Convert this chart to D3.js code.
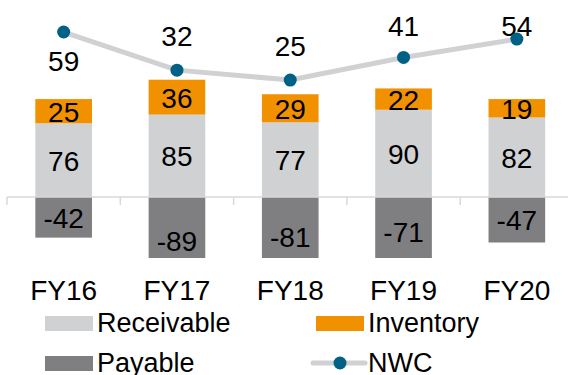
<!DOCTYPE html>
<html>
<head>
<meta charset="utf-8">
<script src="https://cdn.jsdelivr.net/npm/d3@7"></script>
<style>
  body { margin: 0; background: #fff; }
  svg { display: block; font-family: "Liberation Sans", Arial, sans-serif; }
</style>
</head>
<body>
<div id="chart"></div>
<script>
// data
const years = ['FY16', 'FY17', 'FY18', 'FY19', 'FY20'];
const receivable = [76, 85, 77, 90, 82];
const inventory = [25, 36, 29, 22, 19];
const payable = [-42, -89, -81, -71, -47];
const nwc = [59, 32, 25, 41, 54];

const width = 568;
const height = 375;
const plotTop = 8;
const plotBottom = 258;

const colors = {
	receivable: '#d0d1d3',
	inventory: '#f29100',
	payable: '#7f7f82',
	line: '#d0d1d3',
	dot: '#006186'
};

const x = d3
	.scaleBand()
	.domain(years)
	.range([7, 573.5])
	.paddingInner(0.5)
	.paddingOuter(0.25);

// primary axis for the bars, secondary for NWC
const y = d3.scaleLinear().domain([-63, 195]).range([plotBottom, plotTop]);
const y2 = d3.scaleLinear().domain([-101, 76]).range([plotBottom, plotTop]);

const svg = d3
	.select('#chart')
	.append('svg')
	.attr('width', width)
	.attr('height', height);

svg
	.append('defs')
	.append('clipPath')
	.attr('id', 'plot')
	.append('rect')
	.attr('x', 0)
	.attr('y', plotTop - 10)
	.attr('width', width)
	.attr('height', plotBottom - plotTop + 10);

const bars = svg.append('g').attr('clip-path', 'url(#plot)');

// receivable
bars
	.selectAll('rect.rec')
	.data(years)
	.join('rect')
	.attr('class', 'rec')
	.attr('x', (d) => x(d))
	.attr('width', x.bandwidth())
	.attr('y', (d, i) => y(receivable[i]))
	.attr('height', (d, i) => y(0) - y(receivable[i]))
	.attr('fill', colors.receivable);

// inventory on top
bars
	.selectAll('rect.inv')
	.data(years)
	.join('rect')
	.attr('class', 'inv')
	.attr('x', (d) => x(d))
	.attr('width', x.bandwidth())
	.attr('y', (d, i) => y(receivable[i] + inventory[i]))
	.attr('height', (d, i) => y(receivable[i]) - y(receivable[i] + inventory[i]))
	.attr('fill', colors.inventory);

// payable below zero (clipped at the axis minimum)
bars
	.selectAll('rect.pay')
	.data(years)
	.join('rect')
	.attr('class', 'pay')
	.attr('x', (d) => x(d))
	.attr('width', x.bandwidth())
	.attr('y', y(0))
	.attr('height', (d, i) => y(payable[i]) - y(0))
	.attr('fill', colors.payable);

// x axis
const axis = svg.append('g').attr('stroke', '#d9d9d9').attr('stroke-width', 1.5);
axis
	.append('line')
	.attr('x1', x.range()[0])
	.attr('x2', width)
	.attr('y1', y(0))
	.attr('y2', y(0));

const gap = (x.step() - x.bandwidth()) / 2;
axis
	.selectAll('line.tick')
	.data(years)
	.join('line')
	.attr('class', 'tick')
	.attr('x1', (d) => x(d) - gap)
	.attr('x2', (d) => x(d) - gap)
	.attr('y1', y(0))
	.attr('y2', y(0) + 8);

svg
	.append('g')
	.attr('font-size', 28)
	.attr('fill', '#000')
	.attr('text-anchor', 'middle')
	.selectAll('text')
	.data(years)
	.join('text')
	.attr('x', (d) => x(d) + x.bandwidth() / 2)
	.attr('y', 300)
	.text((d) => d);

// data labels
const labels = svg
	.append('g')
	.attr('font-size', 28)
	.attr('fill', '#000')
	.attr('text-anchor', 'middle')
	.attr('dominant-baseline', 'central');

const cx = (d) => x(d) + x.bandwidth() / 2;

labels
	.selectAll('text.rec')
	.data(years)
	.join('text')
	.attr('class', 'rec')
	.attr('x', cx)
	.attr('y', (d, i) => y(receivable[i] / 2) + 1)
	.text((d, i) => receivable[i]);

labels
	.selectAll('text.inv')
	.data(years)
	.join('text')
	.attr('class', 'inv')
	.attr('x', cx)
	.attr('y', (d, i) => y(receivable[i] + inventory[i] / 2) + 1)
	.text((d, i) => inventory[i]);

labels
	.selectAll('text.pay')
	.data(years)
	.join('text')
	.attr('class', 'pay')
	.attr('x', cx)
	.attr('y', (d, i) => y(payable[i] / 2) + 1)
	.text((d, i) => payable[i]);

// NWC line
const line = d3
	.line()
	.x((d, i) => cx(years[i]))
	.y((d) => y2(d));

svg
	.append('path')
	.datum(nwc)
	.attr('d', line)
	.attr('fill', 'none')
	.attr('stroke', colors.line)
	.attr('stroke-width', 5);

svg
	.append('g')
	.selectAll('circle')
	.data(nwc)
	.join('circle')
	.attr('cx', (d, i) => cx(years[i]))
	.attr('cy', (d) => y2(d))
	.attr('r', 6.5)
	.attr('fill', colors.dot);

labels
	.selectAll('text.nwc')
	.data(nwc)
	.join('text')
	.attr('class', 'nwc')
	.attr('x', (d, i) => cx(years[i]))
	.attr('y', (d, i) => (i === 0 ? y2(d) + 29 : Math.max(26, y2(d) - 34)))
	.text((d) => d);

// legend
const legend = svg.append('g').attr('font-size', 27).attr('fill', '#000');

const boxes = [
	{ name: 'Receivable', color: colors.receivable, x: 45, y: 316 },
	{ name: 'Inventory', color: colors.inventory, x: 316, y: 316 },
	{ name: 'Payable', color: colors.payable, x: 45, y: 356 }
];

legend
	.selectAll('rect')
	.data(boxes)
	.join('rect')
	.attr('x', (d) => d.x)
	.attr('y', (d) => d.y)
	.attr('width', 48)
	.attr('height', 15)
	.attr('fill', (d) => d.color);

legend
	.selectAll('text.box')
	.data(boxes)
	.join('text')
	.attr('class', 'box')
	.attr('x', (d) => d.x + 52)
	.attr('y', (d) => d.y + 16)
	.text((d) => d.name);

legend
	.append('line')
	.attr('x1', 313)
	.attr('x2', 365)
	.attr('y1', 363)
	.attr('y2', 363)
	.attr('stroke', colors.line)
	.attr('stroke-width', 5)
	.attr('stroke-linecap', 'round');

legend
	.append('circle')
	.attr('cx', 340)
	.attr('cy', 363)
	.attr('r', 6.5)
	.attr('fill', colors.dot);

legend
	.append('text')
	.attr('x', 368)
	.attr('y', 372)
	.text('NWC');
</script>
</body>
</html>
